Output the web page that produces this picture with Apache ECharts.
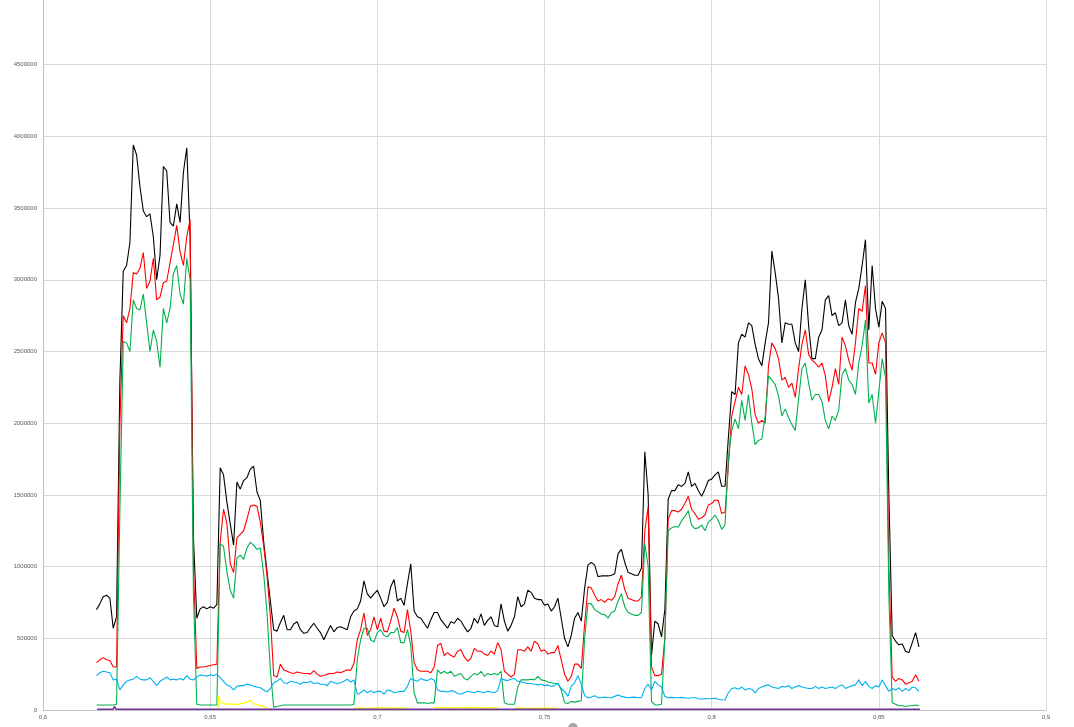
<!DOCTYPE html>
<html>
<head>
<meta charset="utf-8">
<script src="https://cdn.jsdelivr.net/npm/echarts@6/dist/echarts.min.js"></script>
<style>html,body{margin:0;padding:0;background:#fff;overflow:hidden;width:1074px;height:727px;position:relative;}#c{position:absolute;left:0;top:-10px;width:1074px;height:737px;}</style>
</head>
<body>
<div id="c"></div>
<script>
const xs = [0.616,0.617,0.618,0.619,0.620,0.621,0.622,0.623,0.624,0.625,
0.626,0.627,0.628,0.629,0.630,0.631,0.632,0.633,0.634,0.635,
0.636,0.637,0.638,0.639,0.640,0.641,0.642,0.643,0.644,0.645,
0.646,0.647,0.648,0.649,0.650,0.651,0.652,0.653,0.654,0.655,
0.656,0.657,0.658,0.659,0.660,0.661,0.662,0.663,0.664,0.665,
0.666,0.667,0.668,0.669,0.670,0.671,0.672,0.673,0.674,0.675,
0.676,0.677,0.678,0.679,0.680,0.681,0.682,0.683,0.684,0.685,
0.686,0.687,0.688,0.689,0.690,0.691,0.692,0.693,0.694,0.695,
0.696,0.697,0.698,0.699,0.700,0.701,0.702,0.703,0.704,0.705,
0.706,0.707,0.708,0.709,0.710,0.711,0.712,0.713,0.714,0.715,
0.716,0.717,0.718,0.719,0.720,0.721,0.722,0.723,0.724,0.725,
0.726,0.727,0.728,0.729,0.730,0.731,0.732,0.733,0.734,0.735,
0.736,0.737,0.738,0.739,0.740,0.741,0.742,0.743,0.744,0.745,
0.746,0.747,0.748,0.749,0.750,0.751,0.752,0.753,0.754,0.755,
0.756,0.757,0.758,0.759,0.760,0.761,0.762,0.763,0.764,0.765,
0.766,0.767,0.768,0.769,0.770,0.771,0.772,0.773,0.774,0.775,
0.776,0.777,0.778,0.779,0.780,0.781,0.782,0.783,0.784,0.785,
0.786,0.787,0.788,0.789,0.790,0.791,0.792,0.793,0.794,0.795,
0.796,0.797,0.798,0.799,0.800,0.801,0.802,0.803,0.804,0.805,
0.806,0.807,0.808,0.809,0.810,0.811,0.812,0.813,0.814,0.815,
0.816,0.817,0.818,0.819,0.820,0.821,0.822,0.823,0.824,0.825,
0.826,0.827,0.828,0.829,0.830,0.831,0.832,0.833,0.834,0.835,
0.836,0.837,0.838,0.839,0.840,0.841,0.842,0.843,0.844,0.845,
0.846,0.847,0.848,0.849,0.850,0.851,0.852,0.853,0.854,0.855,
0.856,0.857,0.858,0.859,0.860,0.861,0.862];

const blackVals = [700000,740000,790000,800000,780000,570000,650000,2300000,3060000,3100000,
3260000,3940000,3870000,3650000,3480000,3440000,3460000,3300000,3000000,3170000,
3790000,3760000,3400000,3375000,3530000,3400000,3750000,3920000,3300000,1200000,
640000,705000,720000,705000,720000,710000,735000,1690000,1640000,1450000,
1300000,1150000,1590000,1540000,1600000,1620000,1680000,1700000,1520000,1460000,
1175000,965000,760000,560000,550000,610000,660000,560000,560000,600000,
615000,560000,535000,540000,575000,605000,570000,540000,490000,540000,
590000,545000,575000,580000,570000,560000,650000,690000,705000,760000,
900000,810000,780000,810000,835000,780000,720000,750000,860000,910000,
760000,780000,730000,880000,1020000,690000,650000,640000,605000,570000,
630000,680000,680000,630000,600000,570000,615000,605000,640000,620000,
580000,545000,570000,640000,605000,670000,590000,625000,650000,590000,
580000,740000,620000,550000,590000,650000,790000,720000,740000,835000,
820000,780000,770000,770000,730000,740000,690000,720000,780000,640000,
500000,440000,520000,640000,680000,620000,850000,1010000,1030000,1010000,
930000,935000,935000,935000,940000,950000,1090000,1120000,1030000,960000,
950000,940000,940000,990000,1800000,1500000,380000,620000,600000,510000,
700000,1470000,1530000,1530000,1570000,1560000,1580000,1660000,1560000,1580000,
1530000,1490000,1540000,1600000,1610000,1640000,1660000,1560000,1560000,1900000,
2220000,2200000,2560000,2620000,2600000,2700000,2680000,2550000,2450000,2400000,
2560000,2700000,3200000,3050000,2870000,2560000,2700000,2690000,2690000,2560000,
2500000,2800000,3000000,2680000,2450000,2450000,2600000,2650000,2860000,2890000,
2750000,2770000,2680000,2700000,2860000,2680000,2620000,2840000,2940000,3100000,
3280000,2650000,3100000,2800000,2670000,2850000,2800000,1500000,520000,480000,
455000,460000,410000,400000,470000,540000,440000];

const redVals = [330000,350000,365000,350000,345000,300000,300000,2000000,2750000,2700000,
2800000,3050000,3040000,3080000,3190000,2940000,2990000,3150000,2860000,2880000,
2980000,2990000,3120000,3245000,3380000,3195000,3100000,3300000,3420000,1000000,
290000,300000,300000,305000,310000,315000,320000,1175000,1400000,1300000,
1020000,960000,1200000,1225000,1250000,1330000,1420000,1430000,1420000,1310000,
1145000,940000,655000,240000,230000,320000,280000,270000,260000,255000,
265000,260000,255000,255000,250000,275000,250000,235000,240000,250000,
255000,255000,265000,260000,270000,280000,275000,325000,490000,560000,
675000,520000,560000,650000,560000,640000,550000,545000,620000,710000,
650000,550000,540000,700000,550000,330000,280000,270000,270000,270000,
260000,300000,450000,465000,380000,400000,380000,370000,410000,420000,
370000,340000,360000,430000,410000,410000,390000,380000,410000,390000,
470000,420000,270000,250000,230000,250000,420000,420000,410000,440000,
410000,480000,460000,410000,420000,390000,400000,400000,450000,350000,
250000,200000,235000,320000,320000,290000,600000,860000,850000,800000,
760000,770000,750000,775000,765000,790000,880000,940000,840000,780000,
770000,760000,760000,790000,1250000,1415000,300000,240000,240000,250000,
500000,1330000,1390000,1390000,1380000,1400000,1440000,1490000,1400000,1370000,
1330000,1340000,1360000,1430000,1440000,1465000,1460000,1370000,1380000,1700000,
2050000,2150000,2250000,2200000,2400000,2340000,2240000,2060000,2000000,2020000,
2000000,2400000,2560000,2520000,2450000,2300000,2320000,2250000,2280000,2180000,
2380000,2550000,2650000,2480000,2440000,2420000,2390000,2420000,2330000,2150000,
2250000,2380000,2270000,2600000,2540000,2440000,2370000,2560000,2800000,2780000,
2960000,2420000,2420000,2340000,2560000,2630000,2560000,1000000,230000,200000,
220000,210000,180000,190000,200000,245000,200000];

const greenVals = [35000,35000,35000,35000,35000,35000,40000,1400000,2570000,2560000,
2500000,2860000,2800000,2790000,2900000,2700000,2500000,2650000,2570000,2390000,
2800000,2700000,2800000,3040000,3100000,2900000,2830000,3150000,3000000,800000,
40000,35000,35000,35000,35000,35000,35000,1160000,1140000,965000,
835000,780000,1060000,1080000,1050000,1130000,1170000,1150000,1120000,1130000,
950000,680000,280000,20000,25000,30000,35000,35000,35000,35000,
35000,35000,35000,35000,35000,35000,35000,35000,35000,35000,
35000,35000,35000,35000,35000,35000,35000,40000,350000,490000,
570000,570000,490000,475000,540000,560000,520000,510000,540000,540000,
575000,470000,470000,560000,450000,120000,50000,50000,50000,45000,
50000,50000,280000,255000,270000,255000,270000,235000,245000,255000,
220000,210000,235000,255000,245000,270000,235000,255000,245000,255000,
245000,270000,50000,40000,40000,40000,160000,210000,210000,210000,
215000,210000,235000,210000,205000,195000,190000,185000,185000,140000,
50000,45000,60000,55000,60000,65000,500000,745000,740000,700000,
685000,670000,665000,640000,680000,690000,760000,810000,720000,680000,
670000,660000,660000,680000,1160000,1000000,60000,35000,35000,40000,
500000,1250000,1270000,1280000,1275000,1320000,1350000,1390000,1290000,1265000,
1270000,1290000,1250000,1310000,1330000,1360000,1320000,1260000,1290000,1760000,
1950000,2030000,1960000,2160000,2020000,2200000,2000000,1850000,1880000,1890000,
2050000,2330000,2300000,2270000,2190000,2050000,2100000,2040000,1990000,1950000,
2170000,2380000,2420000,2280000,2160000,2200000,2200000,2150000,2020000,1960000,
2050000,2020000,2090000,2340000,2380000,2300000,2270000,2200000,2420000,2540000,
2720000,2140000,2200000,2000000,2220000,2450000,2320000,800000,50000,40000,
30000,30000,25000,30000,30000,35000,30000];

const blueVals = [240000,260000,270000,265000,260000,210000,215000,140000,175000,200000,
210000,215000,235000,215000,210000,210000,225000,200000,170000,200000,
215000,230000,210000,215000,210000,220000,210000,240000,215000,210000,
230000,245000,240000,235000,245000,240000,250000,225000,200000,175000,
165000,140000,165000,170000,170000,180000,175000,165000,160000,155000,
140000,125000,150000,190000,200000,220000,190000,185000,200000,195000,
190000,180000,195000,190000,200000,185000,190000,180000,180000,170000,
200000,190000,185000,190000,200000,215000,195000,210000,110000,120000,
140000,120000,135000,120000,130000,130000,110000,140000,135000,120000,
125000,130000,130000,165000,220000,210000,200000,220000,210000,205000,
220000,210000,140000,130000,130000,125000,135000,130000,115000,110000,
120000,130000,125000,120000,130000,125000,120000,130000,125000,120000,
135000,220000,210000,205000,215000,220000,200000,195000,190000,185000,
185000,180000,175000,180000,170000,175000,165000,170000,185000,150000,
130000,95000,165000,190000,240000,180000,100000,85000,90000,100000,
85000,85000,90000,85000,85000,95000,105000,95000,90000,85000,
88000,90000,85000,88000,150000,180000,140000,200000,175000,160000,
95000,85000,88000,85000,85000,88000,85000,82000,85000,85000,
80000,75000,80000,78000,80000,82000,75000,72000,70000,120000,
150000,155000,145000,160000,140000,150000,145000,120000,150000,160000,
170000,175000,160000,155000,150000,165000,160000,170000,150000,160000,
170000,160000,155000,150000,150000,165000,150000,160000,150000,155000,
160000,150000,165000,175000,150000,160000,170000,175000,210000,170000,
200000,165000,150000,170000,160000,210000,170000,130000,150000,140000,
155000,130000,150000,135000,160000,155000,130000];

const yellowX = [0.6523,0.6525,0.653,0.654,0.655,0.656,0.657,0.658,0.659,0.660,0.661,0.662,0.663,0.664,0.665,0.666,0.6671,0.668,
0.6931,0.697,0.701,0.705,0.7093,0.711,
0.7168,0.722,0.727,0.731,0.7362,0.738,
0.7413,0.746,0.750,0.7539];
const yellowY = [0,100000,60000,45000,40000,45000,40000,38000,45000,48000,55000,65000,45000,35000,30000,25000,10000,'-',
15000,12000,16000,13000,15000,'-',
18000,15000,18000,14000,16000,'-',
14000,12000,15000,12000];

const purpleX = [0.6162,0.6210,0.6214,0.6218,0.8623];
const purpleY = [5000,5000,25000,5000,5000];

const xTicks = {min: 0.6, max: 0.9, step: 0.05};
const yTicks = {min: 0, max: 5000000, step: 500000};

const pair = (x, y) => x.map((v, i) => [v, y[i]]);

const chart = echarts.init(document.getElementById('c'), null, {renderer: 'canvas'});
const lineS = (name, color, data, w) => ({
  name, type: 'line', data, showSymbol: false, symbol: 'none',
  lineStyle: {color, width: w}, itemStyle: {color}, animation: false, connectNulls: false
});
chart.setOption({
  animation: false,
  backgroundColor: '#ffffff',
  grid: {left: 43, right: 28, top: 0, bottom: 17, containLabel: false},
  xAxis: {
    type: 'value', min: xTicks.min, max: xTicks.max, interval: xTicks.step,
    axisLine: {show: true, lineStyle: {color: '#bfbfbf', width: 1}},
    axisTick: {show: false},
    splitLine: {show: true, lineStyle: {color: '#d9d9d9', width: 1}},
    axisLabel: {
      fontSize: 6, color: '#595959', fontFamily: 'Liberation Sans, Arial, sans-serif', margin: 4,
      formatter: v => String(+v.toFixed(2)).replace('.', ',')
    }
  },
  yAxis: {
    type: 'value', min: yTicks.min, max: yTicks.max, interval: yTicks.step,
    axisLine: {show: true, lineStyle: {color: '#bfbfbf', width: 1}},
    axisTick: {show: false},
    splitLine: {show: true, lineStyle: {color: '#d9d9d9', width: 1}},
    axisLabel: {fontSize: 6, color: '#595959', fontFamily: 'Liberation Sans, Arial, sans-serif', margin: 6,
      formatter: v => String(v)}
  },
  series: [
    lineS('black', '#000000', pair(xs, blackVals), 1.1),
    lineS('red', '#ff0000', pair(xs, redVals), 1.1),
    lineS('green', '#00b050', pair(xs, greenVals), 1.1),
    lineS('blue', '#00b0f0', pair(xs, blueVals), 1.1),
    lineS('yellow', '#ffff00', pair(yellowX, yellowY), 1.3),
    lineS('purple', '#7030a0', pair(purpleX, purpleY), 1.5)
  ],
  graphic: [{
    type: 'circle', left: 568, top: 733, shape: {r: 5},
    style: {fill: '#a6a6a6'}, silent: true
  }]
});
</script>
</body>
</html>
